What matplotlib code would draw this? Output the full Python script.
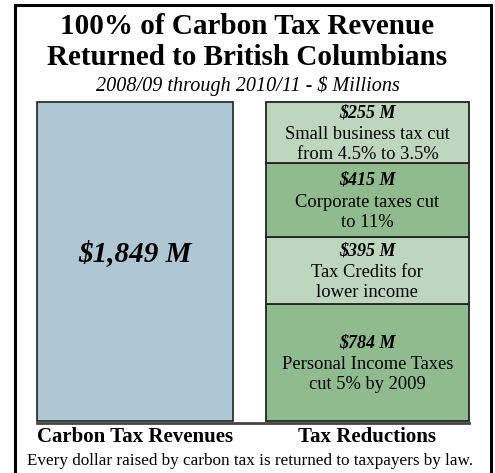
import matplotlib.pyplot as plt
from matplotlib.patches import Rectangle

# values shown on the chart ($ millions)
revenue_label = "$1,849 M"
revenue_total = 1849

reduction_values = ["$784 M", "$395 M", "$415 M", "$255 M"]
reduction_notes = [
    "Personal Income Taxes\ncut 5% by 2009",
    "Tax Credits for\nlower income",
    "Corporate taxes cut\nto 11%",
    "Small business tax cut\nfrom 4.5% to 3.5%",
]
# drawn segment heights as they appear in the picture (not to scale)
segment_heights = [678, 388, 429, 354]
segment_colors = ["#8fbb8f", "#bed6be", "#8fbb8f", "#bed6be"]

categories = ["Carbon Tax Revenues", "Tax Reductions"]

plt.rcParams['font.family'] = ['Liberation Serif', 'DejaVu Serif']

W, H = 495, 473
fig = plt.figure(figsize=(W / 100, H / 100), dpi=100)

# outer frame
fig.patches.append(Rectangle((15 / W, -0.05), 476 / W, 1.05 - 5 / H,
                             transform=fig.transFigure, fill=False,
                             edgecolor='black', linewidth=2.2))

fig.text(0.5, 1 - 42 / H, "100% of Carbon Tax Revenue\nReturned to British Columbians",
         ha='center', va='center', fontsize=21, fontweight='bold', linespacing=1.22)
fig.text(0.5, 1 - 86 / H, "2008/09 through 2010/11 - $ Millions",
         ha='center', va='center', fontsize=14.5, style='italic')

# px per data unit: 319 px for the full stack
px = 319 / revenue_total

ax = fig.add_axes([37 / W, (H - 421) / H, 432 / W, 319 / H])
ax.set_xlim(-0.421, 1.437)
ax.set_ylim(0, revenue_total)

ax.bar(0, revenue_total, width=0.843, color='#afc6d3', edgecolor='#222222',
       linewidth=1.2, clip_on=False)
ax.text(0, revenue_total / 2 + 8 / px, revenue_label, ha='center', va='center',
        fontsize=21, fontweight='bold', style='italic')

bottom = 0
for h, c, val, note in zip(segment_heights, segment_colors, reduction_values, reduction_notes):
    ax.bar(1, h, bottom=bottom, width=0.873, color=c, edgecolor='#222222',
           linewidth=1.3, clip_on=False)
    mid = bottom + h / 2
    ax.text(1, mid + 20 / px, val, ha='center', va='center', fontsize=13,
            fontweight='bold', style='italic')
    ax.text(1, mid - 12 / px, note, ha='center', va='center', fontsize=13.3,
            linespacing=1.22)
    bottom += h

for s in ['top', 'left', 'right']:
    ax.spines[s].set_visible(False)
ax.spines['bottom'].set_position(('outward', 1.5))
ax.spines['bottom'].set_linewidth(2.0)
ax.spines['bottom'].set_color('#444444')
ax.set_yticks([])
ax.set_xticks([0, 1])
ax.set_xticklabels(categories, fontsize=15, fontweight='bold')
ax.tick_params(axis='x', length=0, pad=3)
ax.patch.set_visible(False)

fig.text(0.505, 1 - 461 / H, "Every dollar raised by carbon tax is returned to taxpayers by law.",
         ha='center', va='center', fontsize=12.3)

fig.savefig('out.png', dpi=100)
